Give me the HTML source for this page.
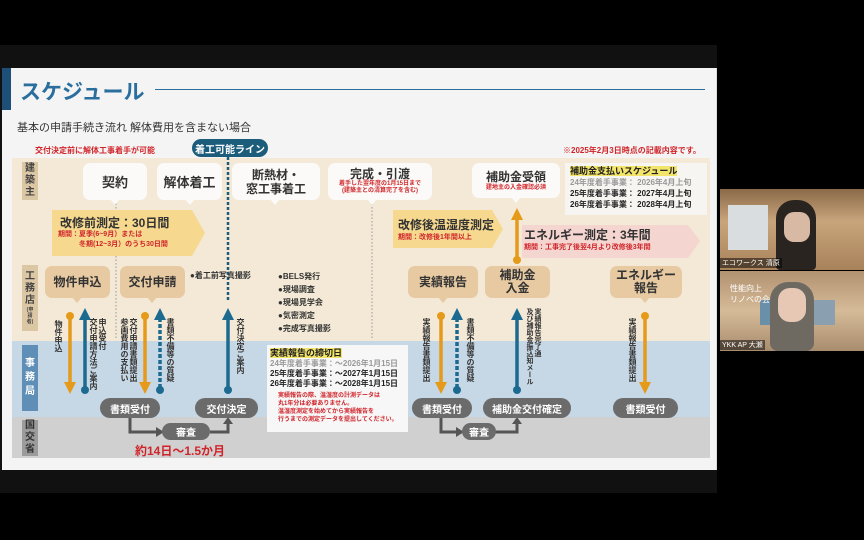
<!DOCTYPE html>
<html><head><meta charset="utf-8"><style>
*{margin:0;padding:0;box-sizing:border-box}
body{width:864px;height:540px;background:#000;position:relative;overflow:hidden;font-family:"Liberation Sans","Noto Sans CJK JP",sans-serif}
.a{position:absolute}
.c{display:flex;align-items:center;justify-content:center;text-align:center;flex-direction:column}
.w{background:#fbfaf8;border-radius:7px;color:#333;font-weight:bold}
.t{background:#e7c9a2;border-radius:7px;color:#333;font-weight:bold;font-size:12px;line-height:13px}
.d{background:#6b6b6b;border-radius:10px;color:#fff;font-weight:bold;font-size:10px}
.v{writing-mode:vertical-rl;font-size:8px;line-height:9px;color:#333;font-weight:bold}
.r{color:#d0242a;font-weight:bold}
</style></head><body>
<div class="a" style="left:0;top:45px;width:717px;height:448px;background:#111"></div>
<div class="a" style="left:2px;top:68px;width:715px;height:402px;background:#f4f4f4;border-right:1px solid #ddd"></div>
<div class="a" style="left:2px;top:68px;width:9px;height:42px;background:#1d4f78"></div>
<div class="a" style="left:20px;top:76px;font-size:21px;font-weight:bold;color:#2a6e9e">スケジュール</div>
<div class="a" style="left:155px;top:89px;width:550px;height:1px;background:#2a6e9e"></div>
<div class="a" style="left:17px;top:119px;font-size:11px;color:#333">基本の申請手続き流れ 解体費用を含まない場合</div>
<div class="a r" style="left:35px;top:145px;font-size:8px">交付決定前に解体工事着手が可能</div>
<div class="a r" style="left:563px;top:145px;font-size:8px">※2025年2月3日時点の記載内容です。</div>
<!-- rows -->
<div class="a" style="left:12px;top:158px;width:698px;height:183px;background:#f3e9d6"></div>
<div class="a" style="left:12px;top:341px;width:698px;height:76px;background:#c6d7e5"></div>
<div class="a" style="left:12px;top:417px;width:698px;height:41px;background:#d0d0d0"></div>
<div class="a c" style="left:22px;top:162px;width:16px;height:38px;background:#dcc7a4;font-size:10px;font-weight:bold;color:#444;line-height:12px">建<br>築<br>主</div>
<div class="a c" style="left:22px;top:265px;width:16px;height:66px;background:#dcc7a4;font-size:10px;font-weight:bold;color:#444;line-height:12px">工<br>務<br>店<span style="font-size:5px;line-height:6px">(申<br>請<br>者)</span></div>
<div class="a c" style="left:22px;top:345px;width:16px;height:66px;background:#5f8fb6;font-size:10px;font-weight:bold;color:#fff;line-height:14px">事<br>務<br>局</div>
<div class="a c" style="left:22px;top:420px;width:16px;height:36px;background:#9b9b9b;font-size:10px;font-weight:bold;color:#333;line-height:12px">国<br>交<br>省</div>
<svg class="a" style="left:0;top:0" width="864" height="540">
<g stroke="#999" stroke-dasharray="1.5,2" fill="none"><line x1="116" y1="200" x2="116" y2="340"/><line x1="372" y1="200" x2="372" y2="340"/></g>
<g fill="#fbfaf8"><polygon points="110,199 120,199 115,205"/><polygon points="185,199 195,199 190,205"/><polygon points="270,199 280,199 275,205"/><polygon points="367,199 377,199 372,205"/><polygon points="511,197 521,197 516,203"/></g>
<g fill="#e7c9a2"><polygon points="72,297 82,297 77,303"/><polygon points="147,297 157,297 152,303"/><polygon points="438,297 448,297 443,303"/><polygon points="640,297 650,297 645,303"/></g>
<line x1="228" y1="157" x2="228" y2="300" stroke="#1c5d7c" stroke-width="2.5" stroke-dasharray="3,2"/>
<polygon points="52,210 192,210 205,233 192,256 52,256" fill="#f6d98f"/>
<polygon points="393,210 492,210 503,229 492,248 393,248" fill="#f6d98f"/>
<polygon points="522,225 688,225 700,241 688,258 522,258" fill="#f5d5cf"/>
<g stroke-width="3.5">
<line x1="517" y1="260" x2="517" y2="218" stroke="#e59a1a"/><polygon points="511,220 523,220 517,208" fill="#e59a1a"/><circle cx="517" cy="260" r="4" fill="#e59a1a"/>
<line x1="70" y1="316" x2="70" y2="384" stroke="#e59a1a"/><circle cx="70" cy="316" r="4" fill="#e59a1a"/><polygon points="64,382 76,382 70,394" fill="#e59a1a"/>
<line x1="85" y1="318" x2="85" y2="390" stroke="#1d6a90"/><polygon points="79,320 91,320 85,308" fill="#1d6a90"/><circle cx="85" cy="390" r="4" fill="#1d6a90"/>
<line x1="145" y1="316" x2="145" y2="384" stroke="#e59a1a"/><circle cx="145" cy="316" r="4" fill="#e59a1a"/><polygon points="139,382 151,382 145,394" fill="#e59a1a"/>
<line x1="160" y1="318" x2="160" y2="390" stroke="#1d6a90" stroke-dasharray="4,2"/><polygon points="154,320 166,320 160,308" fill="#1d6a90"/><circle cx="160" cy="390" r="4" fill="#1d6a90"/>
<line x1="228" y1="318" x2="228" y2="390" stroke="#1d6a90"/><polygon points="222,320 234,320 228,308" fill="#1d6a90"/><circle cx="228" cy="390" r="4" fill="#1d6a90"/>
<line x1="441" y1="316" x2="441" y2="384" stroke="#e59a1a"/><circle cx="441" cy="316" r="4" fill="#e59a1a"/><polygon points="435,382 447,382 441,394" fill="#e59a1a"/>
<line x1="457" y1="318" x2="457" y2="390" stroke="#1d6a90" stroke-dasharray="4,2"/><polygon points="451,320 463,320 457,308" fill="#1d6a90"/><circle cx="457" cy="390" r="4" fill="#1d6a90"/>
<line x1="517" y1="318" x2="517" y2="390" stroke="#1d6a90"/><polygon points="511,320 523,320 517,308" fill="#1d6a90"/><circle cx="517" cy="390" r="4" fill="#1d6a90"/>
<line x1="645" y1="316" x2="645" y2="384" stroke="#e59a1a"/><circle cx="645" cy="316" r="4" fill="#e59a1a"/><polygon points="639,382 651,382 645,394" fill="#e59a1a"/>
</g>
<g stroke="#555" stroke-width="3" fill="none"><polyline points="130,418 130,432 158,432"/><polyline points="210,432 228,432 228,423"/><polyline points="441,418 441,432 458,432"/><polyline points="495,432 517,432 517,423"/></g>
<g fill="#555"><polygon points="156,427 164,432 156,437"/><polygon points="223,424 233,424 228,417"/><polygon points="456,427 464,432 456,437"/><polygon points="512,424 522,424 517,417"/></g>
</svg>
<div class="a c" style="left:192px;top:139px;width:76px;height:18px;background:#1c5d7c;border-radius:9px;color:#fff;font-size:10px;font-weight:bold">着工可能ライン</div>
<!-- row1 -->
<div class="a c w" style="left:83px;top:163px;width:64px;height:37px;font-size:13px">契約</div>
<div class="a c w" style="left:157px;top:163px;width:65px;height:37px;font-size:13px">解体着工</div>
<div class="a c w" style="left:232px;top:163px;width:88px;height:37px;font-size:12px;line-height:14px">断熱材・<br>窓工事着工</div>
<div class="a c w" style="left:328px;top:163px;width:104px;height:37px;font-size:12px;line-height:13px">完成・引渡<span class="r" style="font-size:6px;line-height:7px">着手した翌年度の1月15日まで<br>(建築主との清算完了を含む)</span></div>
<div class="a c w" style="left:472px;top:163px;width:88px;height:35px;font-size:12px;line-height:14px">補助金受領<span class="r" style="font-size:6px;line-height:8px">建地主の入金確認必須</span></div>
<div class="a" style="left:565px;top:163px;width:142px;height:52px;background:#f7f5f1;padding:3px 5px;font-size:8px;line-height:11px;font-weight:bold;color:#222"><span style="background:#f3e46a;font-size:9px">補助金支払いスケジュール</span><br><span style="color:#999">24年度着手事業： 2026年4月上旬</span><br>25年度着手事業： 2027年4月上旬<br>26年度着手事業： 2028年4月上旬</div>
<div class="a" style="left:60px;top:214px;font-size:12px;font-weight:bold;color:#333">改修前測定：30日間</div>
<div class="a r" style="left:58px;top:230px;font-size:7px;line-height:10px">期間：夏季(6~9月）または<br>　　　冬期(12~3月）のうち30日間</div>
<div class="a" style="left:398px;top:216px;font-size:12px;font-weight:bold;color:#333">改修後温湿度測定</div>
<div class="a r" style="left:398px;top:232px;font-size:7px">期間：改修後1年間以上</div>
<div class="a" style="left:524px;top:226px;font-size:12px;font-weight:bold;color:#333">エネルギー測定：3年間</div>
<div class="a r" style="left:524px;top:242px;font-size:7px">期間：工事完了後翌4月より改修後3年間</div>
<!-- row 工務店 -->
<div class="a c t" style="left:45px;top:266px;width:65px;height:32px">物件申込</div>
<div class="a c t" style="left:120px;top:266px;width:65px;height:32px">交付申請</div>
<div class="a c t" style="left:408px;top:266px;width:70px;height:32px">実績報告</div>
<div class="a c t" style="left:485px;top:266px;width:65px;height:32px">補助金<br>入金</div>
<div class="a c t" style="left:610px;top:266px;width:72px;height:32px">エネルギー<br>報告</div>
<div class="a" style="left:190px;top:270px;font-size:8px;font-weight:bold;color:#333">●着工前写真撮影</div>
<div class="a" style="left:278px;top:270px;font-size:8px;line-height:13px;font-weight:bold;color:#333">●BELS発行<br>●現場調査<br>●現場見学会<br>●気密測定<br>●完成写真撮影</div>
<div class="a v" style="left:54px;top:320px">物件申込</div>
<div class="a v" style="left:89px;top:318px">申込受付<br>交付申請方法ご案内</div>
<div class="a v" style="left:120px;top:318px">交付申請書類提出<br>参画費用の支払い</div>
<div class="a v" style="left:166px;top:318px">書類不備等の質疑</div>
<div class="a v" style="left:236px;top:318px">交付決定ご案内</div>
<div class="a v" style="left:422px;top:318px">実績報告書類提出</div>
<div class="a v" style="left:466px;top:318px">書類不備等の質疑</div>
<div class="a v" style="left:525px;top:308px;font-size:7px;line-height:8px">実績報告完了通<br>及び補助金振込知メール</div>
<div class="a v" style="left:628px;top:318px">実績報告書類提出</div>
<!-- 事務局 -->
<div class="a c d" style="left:100px;top:398px;width:60px;height:20px">書類受付</div>
<div class="a c d" style="left:195px;top:398px;width:63px;height:20px">交付決定</div>
<div class="a c d" style="left:162px;top:423px;width:48px;height:17px">審査</div>
<div class="a c d" style="left:412px;top:398px;width:60px;height:20px">書類受付</div>
<div class="a c d" style="left:483px;top:398px;width:88px;height:20px">補助金交付確定</div>
<div class="a c d" style="left:462px;top:423px;width:34px;height:17px">審査</div>
<div class="a c d" style="left:613px;top:398px;width:65px;height:20px">書類受付</div>
<div class="a r" style="left:135px;top:442px;font-size:12px">約14日〜1.5か月</div>
<div class="a" style="left:267px;top:345px;width:141px;height:87px;background:#f7f7f7;padding:3px 3px;font-size:8px;line-height:10px;font-weight:bold;color:#222"><span style="background:#f3e46a;font-size:9px">実績報告の締切日</span><br><span style="color:#999">24年度着手事業：～2026年1月15日</span><br>25年度着手事業：～2027年1月15日<br>26年度着手事業：～2028年1月15日<div class="r" style="font-size:6px;line-height:8px;margin-top:3px;padding-left:8px">実績報告の際、温湿度の計測データは<br>丸1年分は必要ありません。<br>温湿度測定を始めてから実績報告を<br>行うまでの測定データを提出してください。</div></div>
<!-- webcams -->
<div class="a" style="left:720px;top:189px;width:144px;height:81px;background:linear-gradient(#8a6a48,#c9a57c 40%,#a7825a)"></div>
<div class="a" style="left:728px;top:205px;width:40px;height:45px;background:#d9dde0"></div>
<div class="a" style="left:776px;top:200px;width:40px;height:70px;background:#2a2420;border-radius:18px 18px 4px 4px"></div>
<div class="a" style="left:784px;top:212px;width:26px;height:30px;background:#d8b9a4;border-radius:10px"></div>
<div class="a" style="left:720px;top:258px;font-size:7px;color:#fff;background:rgba(0,0,0,.5);padding:0 2px">エコワークス 清原</div>
<div class="a" style="left:720px;top:271px;width:144px;height:80px;background:linear-gradient(#b29270,#d6bb98 50%,#a88c6e)"></div>
<div class="a" style="left:760px;top:300px;width:30px;height:25px;background:#6a8fa8"></div>
<div class="a" style="left:805px;top:300px;width:30px;height:25px;background:#8aa0b0"></div>
<div class="a" style="left:770px;top:282px;width:44px;height:69px;background:#6e6a62;border-radius:18px 18px 8px 8px"></div>
<div class="a" style="left:778px;top:288px;width:28px;height:34px;background:#e6c8b4;border-radius:12px"></div>
<div class="a" style="left:730px;top:283px;font-size:8px;color:#fff">性能向上<br>リノベの会</div>
<div class="a" style="left:720px;top:340px;font-size:7px;color:#fff;background:rgba(0,0,0,.5);padding:0 2px">YKK AP 大瀬</div>
</body></html>
